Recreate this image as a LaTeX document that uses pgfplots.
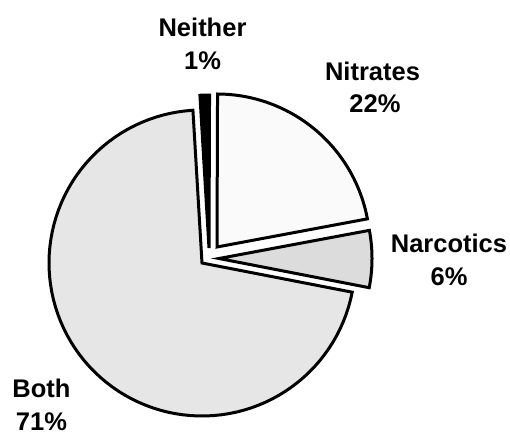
\documentclass[border=0pt]{standalone}
\usepackage{fontspec}
\setmainfont{Liberation Sans}
\usepackage{pgfplots}
\pgfplotsset{compat=1.18}
\definecolor{cBoth}{HTML}{E6E6E6}
\definecolor{cNarc}{HTML}{DCDCDC}
\definecolor{cNitr}{HTML}{FAFAFA}
\definecolor{cNeit}{HTML}{000000}
\tikzset{lbl/.style={font=\bfseries\fontsize{25.5}{30}\selectfont, anchor=base, inner sep=0pt}}
% shares (percent)
\def\pNarc{6}
\def\pNitr{22}
\def\pNeit{1}
\def\pBoth{71}
\def\startA{-11}
\def\R{153}
\pgfmathsetmacro{\aA}{\startA}
\pgfmathsetmacro{\aB}{\aA+3.6*\pNarc}
\pgfmathsetmacro{\aC}{\aB+3.6*\pNitr}
\pgfmathsetmacro{\aD}{\aC+3.6*\pNeit}
\pgfmathsetmacro{\aE}{\aD+3.6*\pBoth}
\begin{document}
\begin{tikzpicture}
\begin{axis}[
  scale only axis, width=510pt, height=434pt,
  xmin=0, xmax=510, ymin=0, ymax=434,
  hide axis, clip=false,
  slice/.style={draw=black, line width=3pt, line join=miter, samples=90, variable=\t},
]
\path[draw=none] (axis cs:0,0) rectangle (axis cs:510,434);
% Both (center 202,171)
\addplot[slice, fill=cBoth, domain=\aD:\aE] ({202+\R*cos(\t)},{171+\R*sin(\t)}) -- (axis cs:202,171) -- cycle;
% Narcotics (exploded)
\addplot[slice, fill=cNarc, domain=\aA:\aB] ({219+\R*cos(\t)},{175.5+\R*sin(\t)}) -- (axis cs:219,175.5) -- cycle;
% Nitrates (exploded)
\addplot[slice, fill=cNitr, domain=\aB:\aC] ({217+\R*cos(\t)},{187+\R*sin(\t)}) -- (axis cs:217,187) -- cycle;
% Neither (exploded)
\addplot[slice, fill=cNeit, domain=\aC:\aD] ({209+\R*cos(\t)},{186+\R*sin(\t)}) -- (axis cs:209,186) -- cycle;

\node[lbl] at (axis cs:202.5,397) {Neither};
\node[lbl] at (axis cs:202.5,364) {1\%};
\node[lbl] at (axis cs:372.5,353) {Nitrates};
\node[lbl] at (axis cs:375,321) {22\%};
\node[lbl] at (axis cs:449,182) {Narcotics};
\node[lbl] at (axis cs:449,149) {6\%};
\node[lbl] at (axis cs:41.5,37) {Both};
\node[lbl] at (axis cs:41.5,4) {71\%};
\end{axis}
\end{tikzpicture}
\end{document}
